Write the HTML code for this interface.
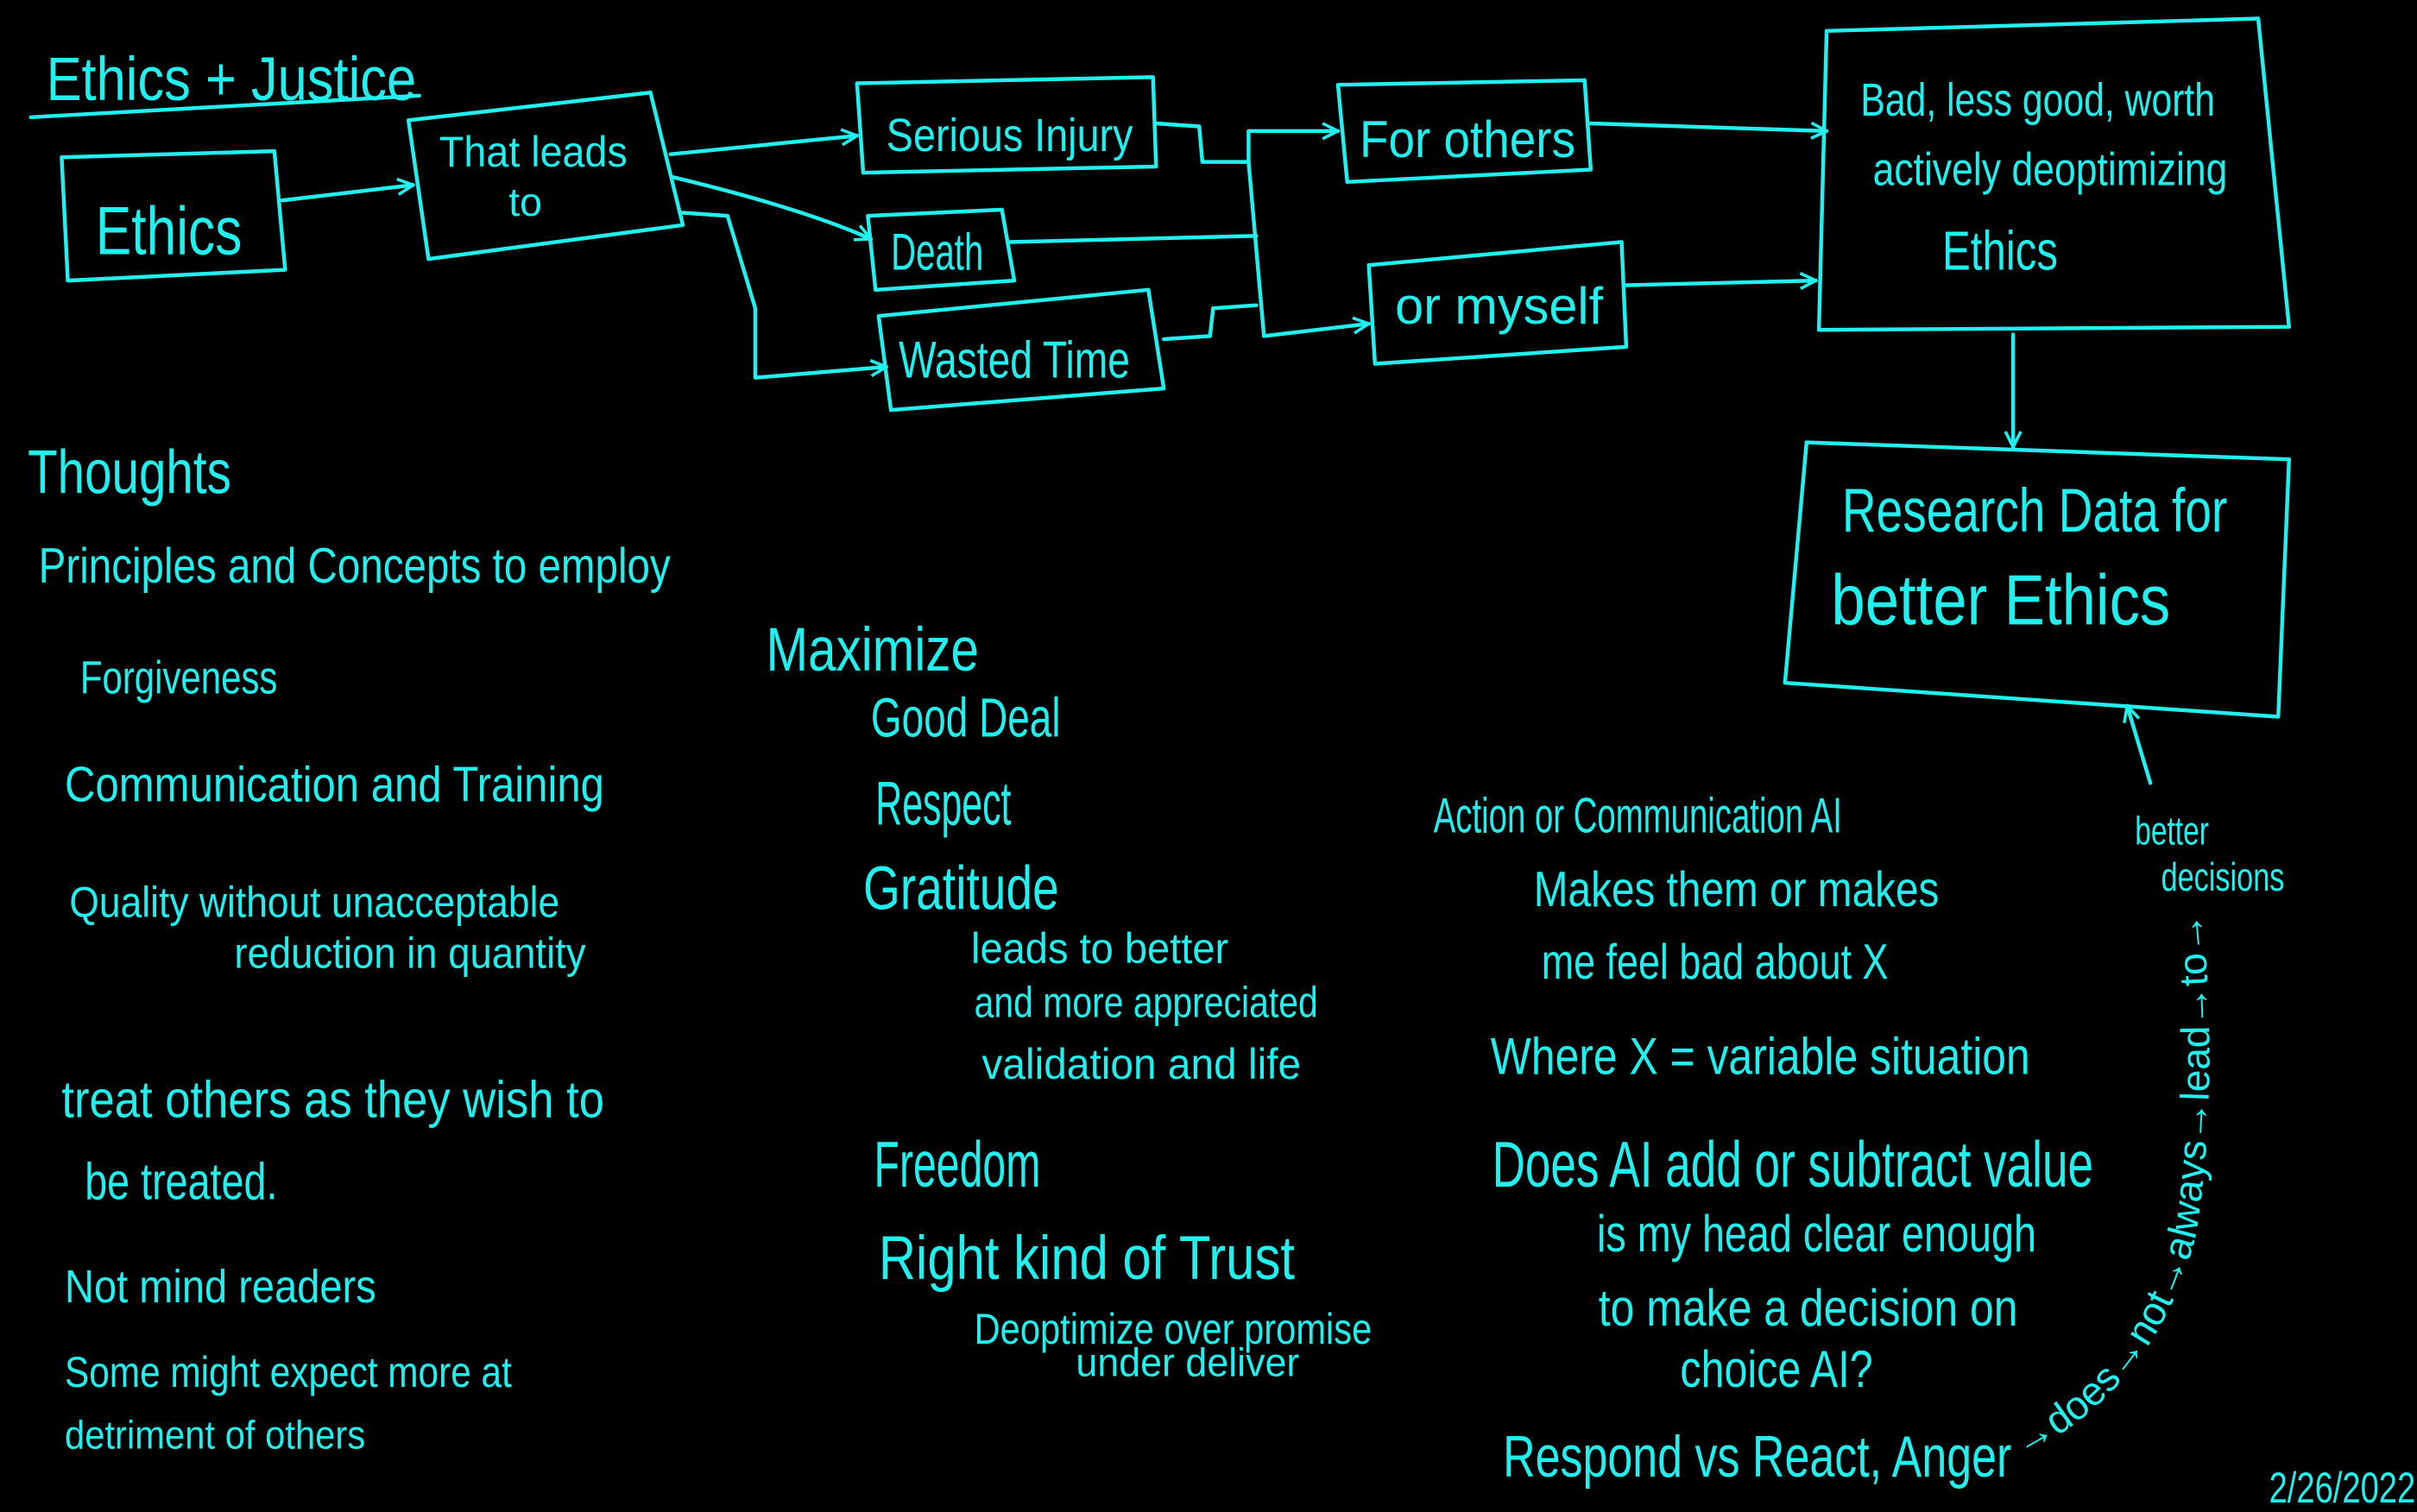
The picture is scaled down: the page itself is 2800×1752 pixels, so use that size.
<!DOCTYPE html>
<html><head><meta charset="utf-8"><style>
html,body{margin:0;padding:0;background:#000;}
svg{display:block;}
text{font-family:"Liberation Sans Narrow","Liberation Sans",sans-serif;fill:#22f0ee;}
</style></head><body>
<svg width="2800" height="1752" viewBox="0 0 1568 981" xmlns="http://www.w3.org/2000/svg">
<defs>
<marker id="a" viewBox="0 0 12 12" refX="11" refY="6" markerWidth="12" markerHeight="12" markerUnits="userSpaceOnUse" orient="auto">
<path d="M1,1 L11,6 L1,11" fill="none" stroke="#22f0ee" stroke-width="2"/></marker>
</defs>
<rect width="1568" height="981" fill="#000"/>
<g fill="none" stroke="#22f0ee" stroke-width="2.5" stroke-linejoin="round" stroke-linecap="round">
<path d="M20,76 L272,62"/>
<path d="M40,102 L178,98 L185,175 L44,182 Z"/>
<path d="M265,78 L422,60 L443,146 L278,168 Z"/>
<path d="M556,54 L748,50 L750,108 L560,112 Z"/>
<path d="M563,140 L650,136 L658,182 L568,188 Z"/>
<path d="M570,205 L745,188 L755,252 L578,266 Z"/>
<path d="M868,55 L1028,52 L1032,110 L874,118 Z"/>
<path d="M888,172 L1052,157 L1055,225 L892,236 Z"/>
<path d="M1185,20 L1465,12 L1485,212 L1180,214 Z"/>
<path d="M1172,287 L1485,298 L1478,465 L1158,443 Z"/>
<path d="M183,130 L268,120" marker-end="url(#a)"/>
<path d="M435,100 L556,88" marker-end="url(#a)"/>
<path d="M437,115 Q520,135 565,155" marker-end="url(#a)"/>
<path d="M443,138 L472,140 L490,200 L490,245 L575,238" marker-end="url(#a)"/>
<path d="M750,80 L778,82 L780,105 L810,105 L810,85 L868,85" marker-end="url(#a)"/>
<path d="M810,105 L820,218 L888,210" marker-end="url(#a)"/>
<path d="M655,157 L815,153"/>
<path d="M755,220 L785,218 L787,200 L815,198"/>
<path d="M1032,80 L1185,85" marker-end="url(#a)"/>
<path d="M1055,185 L1178,182" marker-end="url(#a)"/>
<path d="M1306,217 L1306,290" marker-end="url(#a)"/>
<path d="M1395,508 L1380,458" marker-end="url(#a)"/>
</g>
<path id="cp" d="M1312,945 Q1400,900 1425,800 Q1440,700 1428,585" fill="none"/>
<text font-size="26"><textPath href="#cp">→does→not→always→lead→to→</textPath></text>
<g>
<text x="30" y="65" font-size="40" textLength="240" lengthAdjust="spacingAndGlyphs">Ethics + Justice</text>
<text x="62" y="165" font-size="44" textLength="95" lengthAdjust="spacingAndGlyphs">Ethics</text>
<text x="285" y="108" font-size="28" textLength="122" lengthAdjust="spacingAndGlyphs">That leads</text>
<text x="330" y="140" font-size="26">to</text>
<text x="575" y="98" font-size="30" textLength="160" lengthAdjust="spacingAndGlyphs">Serious Injury</text>
<text x="578" y="175" font-size="34" textLength="60" lengthAdjust="spacingAndGlyphs">Death</text>
<text x="583" y="245" font-size="34" textLength="150" lengthAdjust="spacingAndGlyphs">Wasted Time</text>
<text x="882" y="102" font-size="34" textLength="140" lengthAdjust="spacingAndGlyphs">For others</text>
<text x="905" y="210" font-size="34" textLength="135" lengthAdjust="spacingAndGlyphs">or myself</text>
<text x="1207" y="75" font-size="30" textLength="230" lengthAdjust="spacingAndGlyphs">Bad, less good, worth</text>
<text x="1215" y="120" font-size="30" textLength="230" lengthAdjust="spacingAndGlyphs">actively deoptimizing</text>
<text x="1260" y="175" font-size="36" textLength="75" lengthAdjust="spacingAndGlyphs">Ethics</text>
<text x="1195" y="345" font-size="40" textLength="250" lengthAdjust="spacingAndGlyphs">Research Data for</text>
<text x="1188" y="405" font-size="46" textLength="220" lengthAdjust="spacingAndGlyphs">better Ethics</text>

<text x="18" y="320" font-size="40" textLength="132" lengthAdjust="spacingAndGlyphs">Thoughts</text>
<text x="25" y="378" font-size="32" textLength="410" lengthAdjust="spacingAndGlyphs">Principles and Concepts to employ</text>
<text x="52" y="450" font-size="30" textLength="128" lengthAdjust="spacingAndGlyphs">Forgiveness</text>
<text x="42" y="520" font-size="32" textLength="350" lengthAdjust="spacingAndGlyphs">Communication and Training</text>
<text x="45" y="595" font-size="28" textLength="318" lengthAdjust="spacingAndGlyphs">Quality without unacceptable</text>
<text x="152" y="628" font-size="28" textLength="228" lengthAdjust="spacingAndGlyphs">reduction in quantity</text>
<text x="40" y="725" font-size="34" textLength="352" lengthAdjust="spacingAndGlyphs">treat others as they wish to</text>
<text x="55" y="778" font-size="34" textLength="125" lengthAdjust="spacingAndGlyphs">be treated.</text>
<text x="42" y="845" font-size="30" textLength="202" lengthAdjust="spacingAndGlyphs">Not mind readers</text>
<text x="42" y="900" font-size="28" textLength="290" lengthAdjust="spacingAndGlyphs">Some might expect more at</text>
<text x="42" y="940" font-size="26" textLength="195" lengthAdjust="spacingAndGlyphs">detriment of others</text>

<text x="497" y="435" font-size="40" textLength="138" lengthAdjust="spacingAndGlyphs">Maximize</text>
<text x="565" y="478" font-size="36" textLength="123" lengthAdjust="spacingAndGlyphs">Good Deal</text>
<text x="568" y="535" font-size="40" textLength="88" lengthAdjust="spacingAndGlyphs">Respect</text>
<text x="560" y="590" font-size="40" textLength="127" lengthAdjust="spacingAndGlyphs">Gratitude</text>
<text x="630" y="625" font-size="28" textLength="167" lengthAdjust="spacingAndGlyphs">leads to better</text>
<text x="632" y="660" font-size="28" textLength="223" lengthAdjust="spacingAndGlyphs">and more appreciated</text>
<text x="637" y="700" font-size="28" textLength="207" lengthAdjust="spacingAndGlyphs">validation and life</text>
<text x="567" y="770" font-size="42" textLength="108" lengthAdjust="spacingAndGlyphs">Freedom</text>
<text x="570" y="830" font-size="40" textLength="270" lengthAdjust="spacingAndGlyphs">Right kind of Trust</text>
<text x="632" y="872" font-size="28" textLength="258" lengthAdjust="spacingAndGlyphs">Deoptimize over promise</text>
<text x="698" y="893" font-size="26" textLength="145" lengthAdjust="spacingAndGlyphs">under deliver</text>

<text x="930" y="540" font-size="32" textLength="265" lengthAdjust="spacingAndGlyphs">Action or Communication AI</text>
<text x="995" y="588" font-size="32" textLength="263" lengthAdjust="spacingAndGlyphs">Makes them or makes</text>
<text x="1000" y="635" font-size="32" textLength="225" lengthAdjust="spacingAndGlyphs">me feel bad about X</text>
<text x="967" y="697" font-size="34" textLength="350" lengthAdjust="spacingAndGlyphs">Where X = variable situation</text>
<text x="968" y="770" font-size="42" textLength="390" lengthAdjust="spacingAndGlyphs">Does AI add or subtract value</text>
<text x="1036" y="812" font-size="34" textLength="285" lengthAdjust="spacingAndGlyphs">is my head clear enough</text>
<text x="1037" y="860" font-size="34" textLength="272" lengthAdjust="spacingAndGlyphs">to make a decision on</text>
<text x="1090" y="900" font-size="34" textLength="125" lengthAdjust="spacingAndGlyphs">choice AI?</text>
<text x="975" y="958" font-size="38" textLength="330" lengthAdjust="spacingAndGlyphs">Respond vs React, Anger</text>
<text x="1385" y="548" font-size="26" textLength="48" lengthAdjust="spacingAndGlyphs">better</text>
<text x="1402" y="578" font-size="26" textLength="80" lengthAdjust="spacingAndGlyphs">decisions</text>
<text x="1472" y="975" font-size="28" textLength="95" lengthAdjust="spacingAndGlyphs">2/26/2022</text>
</g>
</svg>
</body></html>
